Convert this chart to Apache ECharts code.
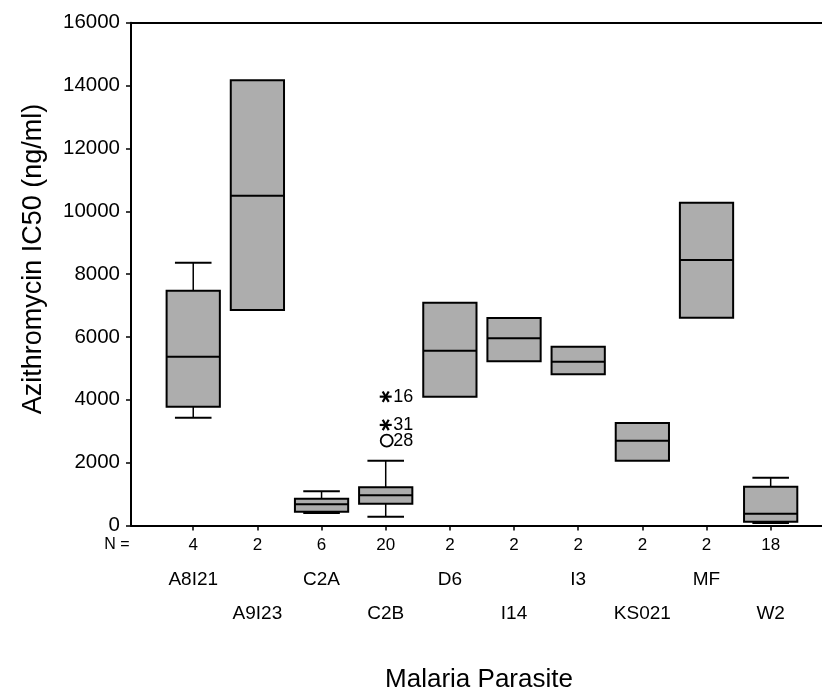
<!DOCTYPE html>
<html>
<head>
<meta charset="utf-8">
<script src="https://cdn.jsdelivr.net/npm/echarts@6/dist/echarts.min.js"></script>
<style>
html,body{margin:0;padding:0;background:#fff;}
#chart{width:822px;height:687px;}
</style>
</head>
<body>
<div id="chart"></div>
<script>
// ---- data ----
const categories = ['A8I21','A9I23','C2A','C2B','D6','I14','I3','KS021','MF','W2'];
const nCounts    = [4, 2, 6, 20, 2, 2, 2, 2, 2, 18];
const mins       = [3430, null, 400, 280, null, null, null, null, null, 80];
const q1s        = [3780, 6860, 440, 690, 4100, 5230, 4810, 2060, 6610, 120];
const medians    = [5370, 10490, 680, 960, 5560, 5960, 5210, 2700, 8450, 370];
const q3s        = [7470, 14170, 850, 1220, 7090, 6600, 5690, 3260, 10270, 1230];
const maxs       = [8360, null, 1090, 2060, null, null, null, null, null, 1520];
const yTicks     = [0, 2000, 4000, 6000, 8000, 10000, 12000, 14000, 16000];
// outliers (C2B)
const outCat     = ['C2B', 'C2B', 'C2B'];
const outValues  = [4100, 3200, 2700];
const outKinds   = ['extreme', 'extreme', 'outlier'];
const outLabels  = ['16', '31', '28'];

// ---- chart ----
const FONT = "'Liberation Sans', Arial, sans-serif";
const chart = echarts.init(document.getElementById('chart'), null, {renderer: 'canvas'});
const pos = categories.map((c, i) => i + 1);
const oddPos = pos.filter((p, i) => i % 2 === 0);
const evenPos = pos.filter((p, i) => i % 2 === 1);

const boxData = categories.map((c, i) => [i + 1, mins[i], q1s[i], medians[i], q3s[i], maxs[i]]);
const outData = outCat.map((c, i) => [categories.indexOf(c) + 1, outValues[i]]);

const xBase = {
  type: 'value', min: 0.03, max: 10.8, gridIndex: 0,
  splitLine: {show: false}
};

const option = {
  animation: false,
  backgroundColor: '#fff',
  grid: {left: 131, right: 0, top: 22.7, bottom: 687 - 525.5, containLabel: false},
  xAxis: [
    Object.assign({}, xBase, {
      position: 'bottom',
      axisLine: {show: true, onZero: false, lineStyle: {color: '#000', width: 2}},
      axisTick: {show: true, inside: false, length: 5, customValues: pos, lineStyle: {color: '#000', width: 1.5}},
      axisLabel: {show: true, customValues: pos, margin: 11, fontSize: 17, fontFamily: FONT, color: '#000',
        formatter: v => String(nCounts[Math.round(v) - 1])}
    }),
    Object.assign({}, xBase, {
      position: 'bottom',
      axisLine: {show: false}, axisTick: {show: false},
      axisLabel: {show: true, customValues: oddPos, margin: 45, fontSize: 19, fontFamily: FONT, color: '#000',
        formatter: v => categories[Math.round(v) - 1]}
    }),
    Object.assign({}, xBase, {
      position: 'bottom',
      axisLine: {show: false}, axisTick: {show: false},
      axisLabel: {show: true, customValues: evenPos, margin: 79, fontSize: 19, fontFamily: FONT, color: '#000',
        formatter: v => categories[Math.round(v) - 1]}
    }),
    Object.assign({}, xBase, {
      position: 'top',
      axisLine: {show: true, onZero: false, lineStyle: {color: '#000', width: 2}},
      axisTick: {show: false}, axisLabel: {show: false}
    })
  ],
  yAxis: {
    type: 'value', min: yTicks[0], max: yTicks[yTicks.length - 1], interval: yTicks[1] - yTicks[0],
    axisLine: {show: true, onZero: false, lineStyle: {color: '#000', width: 2}},
    axisTick: {show: true, inside: false, length: 5, lineStyle: {color: '#000', width: 1.5}},
    axisLabel: {margin: 11, fontSize: 20.5, fontFamily: FONT, color: '#000', formatter: v => String(v)},
    splitLine: {show: false}
  },
  series: [
    {
      type: 'custom',
      xAxisIndex: 0, yAxisIndex: 0,
      data: boxData,
      encode: {x: 0, y: [1, 2, 3, 4, 5]},
      renderItem: function (params, api) {
        const x = api.value(0);
        const vMin = api.value(1), vQ1 = api.value(2), vMed = api.value(3), vQ3 = api.value(4), vMax = api.value(5);
        const unit = api.size([1, 0])[0];
        const halfBox = unit * 0.83 / 2;
        const halfCap = unit * 0.57 / 2;
        const cx = api.coord([x, vQ1])[0];
        const yQ1 = api.coord([x, vQ1])[1];
        const yQ3 = api.coord([x, vQ3])[1];
        const yMed = api.coord([x, vMed])[1];
        const line = {stroke: '#000', lineWidth: 1.5};
        const children = [];
        if (vMax != null && !isNaN(vMax)) {
          const yMax = api.coord([x, vMax])[1];
          children.push({type: 'line', shape: {x1: cx, y1: yMax, x2: cx, y2: yQ3}, style: line});
          children.push({type: 'line', shape: {x1: cx - halfCap, y1: yMax, x2: cx + halfCap, y2: yMax}, style: {stroke: '#000', lineWidth: 2}});
        }
        if (vMin != null && !isNaN(vMin)) {
          const yMin = api.coord([x, vMin])[1];
          children.push({type: 'line', shape: {x1: cx, y1: yQ1, x2: cx, y2: yMin}, style: line});
          children.push({type: 'line', shape: {x1: cx - halfCap, y1: yMin, x2: cx + halfCap, y2: yMin}, style: {stroke: '#000', lineWidth: 2}});
        }
        children.push({type: 'rect', shape: {x: cx - halfBox, y: yQ3, width: halfBox * 2, height: yQ1 - yQ3},
          style: {fill: '#adadad', stroke: '#000', lineWidth: 2}});
        children.push({type: 'line', shape: {x1: cx - halfBox, y1: yMed, x2: cx + halfBox, y2: yMed},
          style: {stroke: '#000', lineWidth: 2}});
        return {type: 'group', children: children};
      }
    },
    {
      type: 'custom',
      xAxisIndex: 0, yAxisIndex: 0,
      data: outData,
      encode: {x: 0, y: 1},
      renderItem: function (params, api) {
        const p = api.coord([api.value(0), api.value(1)]);
        const kind = outKinds[params.dataIndex];
        const children = [];
        if (kind === 'extreme') {
          const r = 6;
          for (let k = 0; k < 3; k++) {
            const a = k * Math.PI / 3;
            const dx = Math.cos(a) * r, dy = Math.sin(a) * r;
            children.push({type: 'line', shape: {x1: p[0] - dx, y1: p[1] - dy, x2: p[0] + dx, y2: p[1] + dy},
              style: {stroke: '#000', lineWidth: 2.2}});
          }
        } else {
          children.push({type: 'circle', shape: {cx: p[0] + 1, cy: p[1], r: 6},
            style: {fill: 'none', stroke: '#000', lineWidth: 1.8}});
        }
        children.push({type: 'text', x: p[0] + 7.5, y: p[1],
          style: {text: outLabels[params.dataIndex], fontSize: 18, fontFamily: FONT, fill: '#000',
            align: 'left', verticalAlign: 'middle'}});
        return {type: 'group', children: children};
      }
    }
  ],
  graphic: [
    {type: 'text', x: 34, y: 259, rotation: Math.PI / 2,
      style: {text: 'Azithromycin IC50 (ng/ml)', fontSize: 27, fontFamily: FONT, fill: '#000',
        align: 'center', verticalAlign: 'middle'}},
    {type: 'text', x: 117, y: 545,
      style: {text: 'N =', fontSize: 16, fontFamily: FONT, fill: '#000', align: 'center', verticalAlign: 'middle'}},
    {type: 'text', x: 479, y: 680,
      style: {text: 'Malaria Parasite', fontSize: 26, fontFamily: FONT, fill: '#000',
        align: 'center', verticalAlign: 'middle'}}
  ]
};
chart.setOption(option);
</script>
</body>
</html>
